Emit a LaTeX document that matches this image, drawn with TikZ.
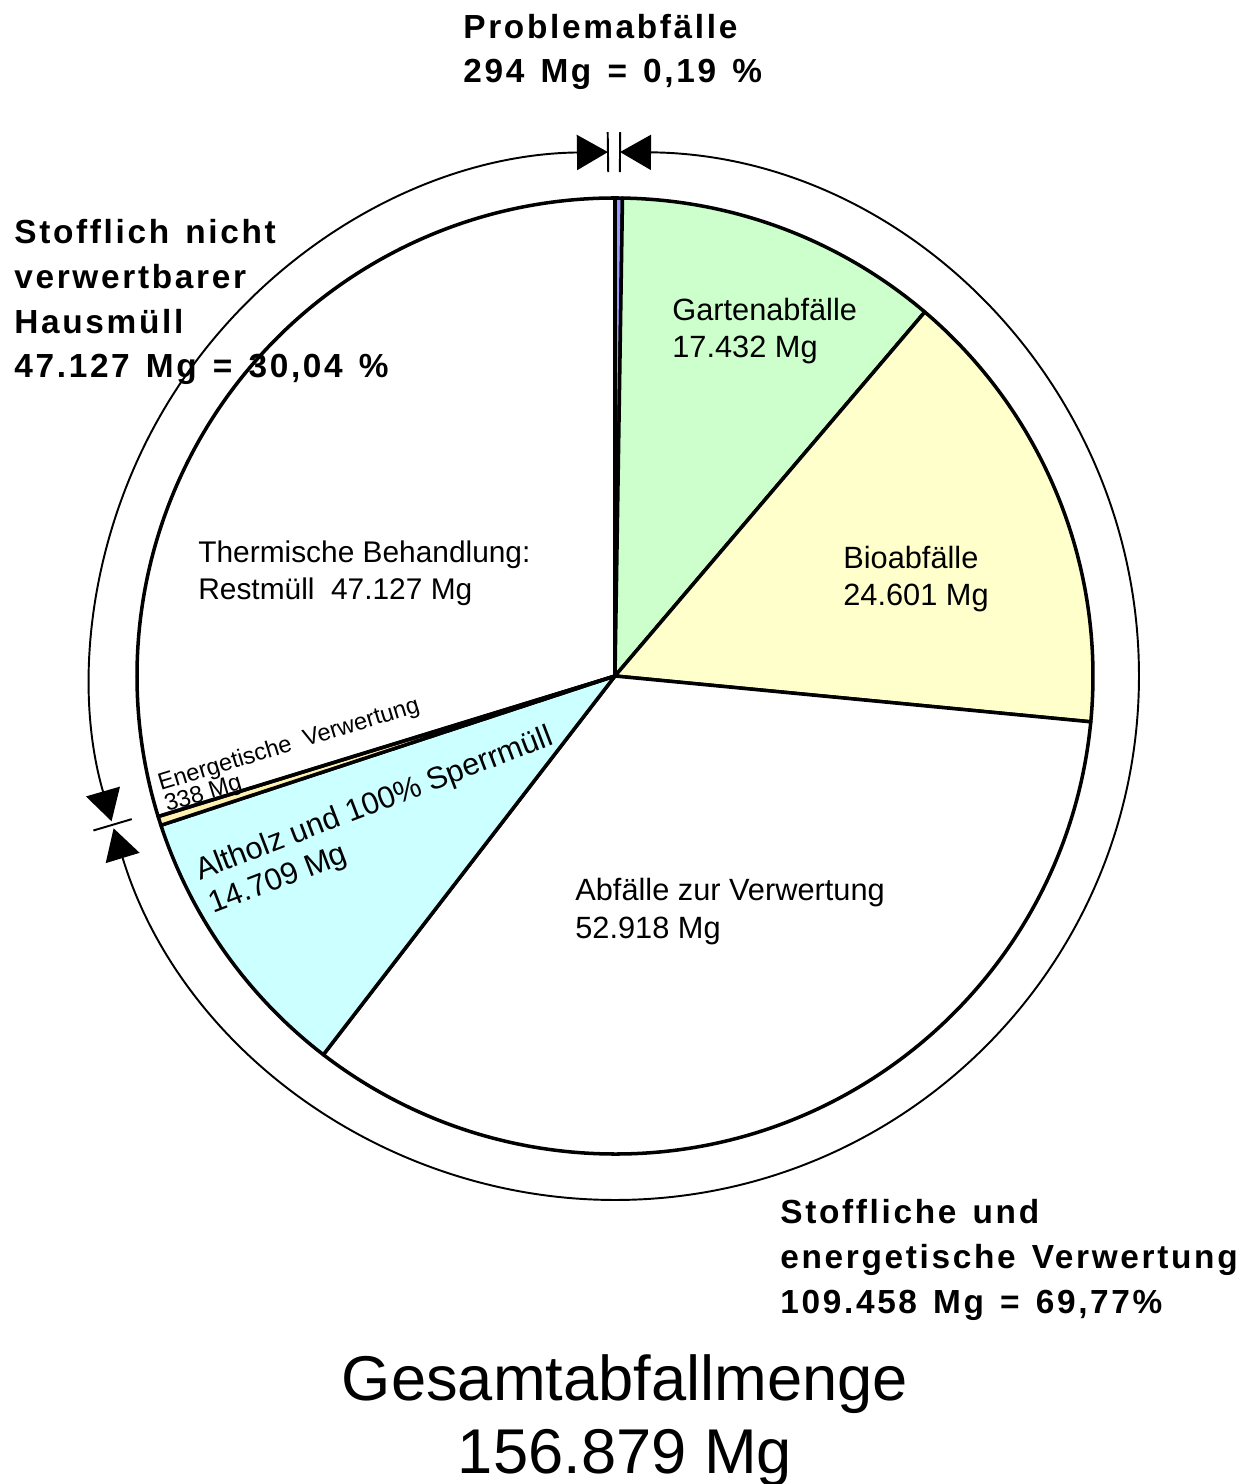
\documentclass[tikz,border=0pt]{standalone}
\usepackage{fontspec}
\setmainfont{Liberation Sans}
\newfontfamily\headfont{Liberation Sans}[LetterSpace=8, WordSpace=1.35]
\usetikzlibrary{arrows.meta}
\definecolor{gartengreen}{HTML}{CCFFCC}
\definecolor{bioyellow}{HTML}{FFFFCC}
\definecolor{holzcyan}{HTML}{CCFFFF}
\definecolor{problemblue}{HTML}{9999FF}
\definecolor{energiecream}{HTML}{FFF2B0}

\begin{document}
\begin{tikzpicture}[
    slice/.style={draw=black, line width=2pt, line join=round},
    ring/.style={line width=1.1pt, {Triangle[length=0.62cm, width=0.7cm]}-{Triangle[length=0.62cm, width=0.7cm]}},
    bar/.style={line width=1.1pt},
    head/.style={anchor=base west, inner sep=0pt, align=left, font=\headfont\bfseries\fontsize{19}{25.5}\selectfont},
    lbl/.style={anchor=base west, inner sep=0pt, align=left, font=\fontsize{17.5}{21.6}\selectfont}
]
\useasboundingbox (-12.3,-16.16) rectangle (12.86,13.52);

% Slices
\filldraw[slice, fill=problemblue] (0,0) -- (90:9.56) arc[start angle=90, end angle=89.1, radius=9.56] -- cycle;
\filldraw[slice, fill=gartengreen] (0,0) -- (89.1:9.56) arc[start angle=89.1, end angle=49.6, radius=9.56] -- cycle;
\filldraw[slice, fill=bioyellow] (0,0) -- (49.6:9.56) arc[start angle=49.6, end angle=-5.5, radius=9.56] -- cycle;
\filldraw[slice, fill=white] (0,0) -- (-5.5:9.56) arc[start angle=-5.5, end angle=-127.6, radius=9.56] -- cycle;
\filldraw[slice, fill=holzcyan] (0,0) -- (-127.6:9.56) arc[start angle=-127.6, end angle=-161.8, radius=9.56] -- cycle;
\fill[energiecream] (0,0) -- (-161.8:9.56) arc[start angle=-161.8, end angle=-162.9, radius=9.56] -- cycle;
\node[lbl, rotate=17, font=\fontsize{13.5}{12.5}\selectfont] (energ) at (-8.96,-2.72) {Energetische\ \ Verwertung\\338 Mg};
\draw[slice] (0,0) -- (-161.8:9.56) arc[start angle=-161.8, end angle=-162.9, radius=9.56] -- cycle;
\draw[slice] (0,0) -- (-162.9:9.56) arc[start angle=-162.9, end angle=-270, radius=9.56] -- cycle;

% Outer ring
\draw[ring] (90.77:10.48) arc[start angle=90.77, end angle=196.1, radius=10.48];
\draw[ring] (89.45:10.48) arc[start angle=89.45, end angle=-163.1, radius=10.48];
\draw[bar] (90.77:10.08) -- (90.77:10.88);
\draw[bar] (89.45:10.08) -- (89.45:10.88);
\draw[bar] (196.5:10.08) -- (196.5:10.88);

% Slice labels (anchored at last baseline)
\node[lbl] (garten) at (1.14,6.36) {Gartenabfälle\\17.432 Mg};
\node[lbl] (bio) at (4.56,1.4) {Bioabfälle\\24.601 Mg};
\node[lbl] (abfall) at (-0.8,-5.24) {Abfälle zur Verwertung\\52.918 Mg};
\node[lbl, font=\fontsize{17}{21.6}\selectfont] (thermisch) at (-8.34,1.52) {Thermische Behandlung:\\Restmüll\ \ 47.127 Mg};
\node[lbl, rotate=21, font=\fontsize{17.5}{20.5}\selectfont] (holz) at (-8.04,-4.76) {Altholz und 100\% Sperrmüll\\14.709 Mg};

% Group labels
\node[head] (problem) at (-3.04,11.86) {Problemabfälle\\294 Mg = 0,19 \%};
\node[head] (restmuell) at (-12.02,5.96) {Stofflich nicht\\verwertbarer\\Hausmüll\\47.127 Mg = 30,04 \%};
\node[head] (verwertung) at (3.3,-12.74) {Stoffliche und\\energetische Verwertung\\109.458 Mg = 69,77\%};
\node[anchor=base, inner sep=0pt, align=center, font=\fontsize{36}{41.5}\selectfont] (gesamt) at (0.2,-15.94) {Gesamtabfallmenge\\156.879 Mg};

\end{tikzpicture}
\end{document}
